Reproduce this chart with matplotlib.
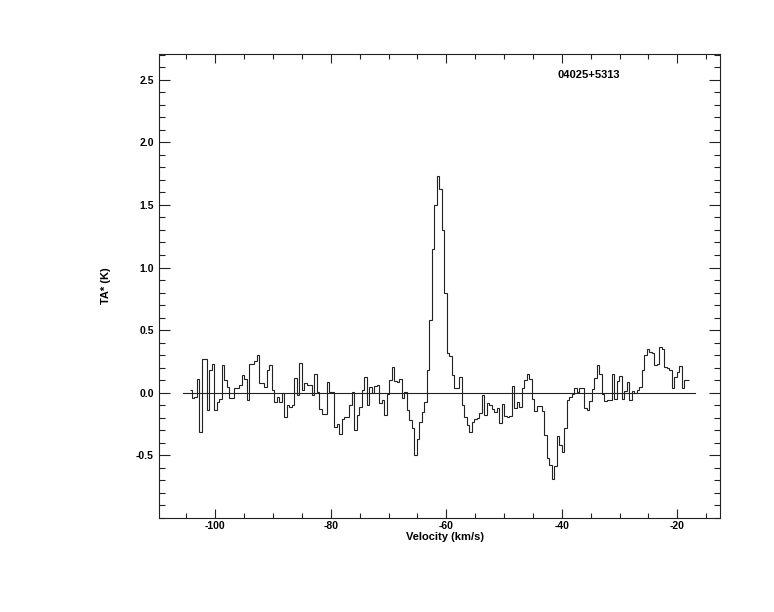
import numpy as np
import matplotlib
matplotlib.use("Agg")
import matplotlib.pyplot as plt
from matplotlib.ticker import MultipleLocator, FormatStrFormatter

plt.rcParams['font.family'] = ['Liberation Sans', 'DejaVu Sans']
plt.rcParams['font.weight'] = 'bold'
plt.rcParams['axes.unicode_minus'] = False

source = "04025+5313"

# spectrum: first channel edge and channel width (km/s)
v_first = -104.47
dv = 0.4329

# antenna temperature per channel (K)
ta = [
    0.02, -0.04, -0.03, 0.11, -0.31, 0.27, 0.27, -0.14, 0.18, 0.23,
    -0.14, -0.07, -0.05, 0.22, 0.10, 0.05, -0.04, -0.04, 0.04, 0.04,
    0.06, 0.14, 0.11, -0.06, 0.23, 0.23, 0.25, 0.30, 0.08, 0.08,
    0.05, 0.18, 0.22, 0.02, -0.07, -0.03, -0.07, 0.00, -0.19, -0.10,
    -0.11, -0.10, 0.12, -0.02, 0.24, 0.02, 0.08, 0.06, 0.06, -0.02,
    0.15, 0.005, -0.13, -0.17, -0.17, 0.085, 0.005, 0.005, -0.27, -0.25,
    -0.33, -0.21, -0.19, -0.19, -0.10, 0.01, -0.30, -0.18, -0.11, 0.02,
    0.125, -0.10, 0.05, -0.003, 0.056, 0.064, -0.08, -0.06, -0.18, -0.01,
    0.10, 0.205, 0.09, 0.085, 0.11, -0.04, 0.01, -0.136, -0.215, -0.28,
    -0.495, -0.37, -0.23, -0.15, -0.07, 0.18, 0.585, 1.145, 1.50, 1.73,
    1.63, 1.30, 0.80, 0.32, 0.29, 0.14, 0.04, 0.04, 0.125, -0.10,
    -0.19, -0.255, -0.31, -0.23, -0.21, -0.20, -0.16, -0.016, -0.178, -0.083,
    -0.096, -0.128, -0.157, -0.12, -0.242, -0.09, -0.184, -0.194, -0.184, 0.053,
    -0.122, -0.072, -0.114, 0.037, 0.104, 0.149, 0.109, -0.05, -0.149, -0.106,
    -0.106, -0.146, -0.335, -0.52, -0.578, -0.69, -0.583, -0.349, -0.418, -0.474,
    -0.282, -0.056, -0.035, -0.01, 0.037, 0.003, 0.035, 0.035, -0.122, -0.141,
    -0.069, 0.03, 0.117, 0.224, 0.15, -0.01, -0.064, -0.056, -0.056, 0.152,
    -0.051, 0.09, 0.136, -0.051, 0.011, 0.083, -0.059, 0.011, -0.003, 0.019,
    0.045, 0.178, 0.304, 0.349, 0.322, 0.317, 0.224, 0.232, 0.365, 0.349,
    0.205, 0.197, 0.178, 0.037, 0.122, 0.162, 0.216, 0.037, 0.099, 0.104,
]

baseline_range = [-105.6, -17.0]

edges = v_first + dv * np.arange(len(ta) + 1)

fig = plt.figure(figsize=(7.74, 6.12), dpi=100)
ax = fig.add_axes([159.3 / 774, 94 / 612, 560.7 / 774, 464 / 612])

ax.stairs(ta, edges, baseline=None, color='#222222', lw=0.8)
ax.plot(baseline_range, [0, 0], color='#222222', lw=0.8)

ax.set_xlim(-109.7, -12.6)
ax.set_ylim(-1.0, 2.705)

ax.xaxis.set_major_locator(MultipleLocator(20))
ax.xaxis.set_minor_locator(MultipleLocator(5))
ax.set_yticks([-0.5, 0.0, 0.5, 1.0, 1.5, 2.0, 2.5])
ax.yaxis.set_minor_locator(MultipleLocator(0.1))
ax.yaxis.set_major_formatter(FormatStrFormatter('%.1f'))

ax.tick_params(axis='both', which='both', direction='in', top=True, right=True,
               color='#222222', width=0.8, labelsize=7.5)
ax.tick_params(axis='x', which='major', length=6.7, pad=2)
ax.tick_params(axis='x', which='minor', length=3.3)
ax.tick_params(axis='y', which='major', length=8.0, pad=4)
ax.tick_params(axis='y', which='minor', length=4.0)
for s in ax.spines.values():
    s.set_color('#222222')
    s.set_linewidth(0.8)

ax.set_xlabel('Velocity (km/s)', fontsize=8, fontweight='bold')
ax.set_ylabel('TA* (K)', fontsize=8, fontweight='bold')
ax.xaxis.set_label_coords(0.51, -0.031)
ax.yaxis.set_label_coords(-0.087, 0.5)

ax.text(-40.8, 2.534, source, fontsize=8, fontweight='bold', va='center', ha='left')

fig.savefig('out.png', dpi=100)
